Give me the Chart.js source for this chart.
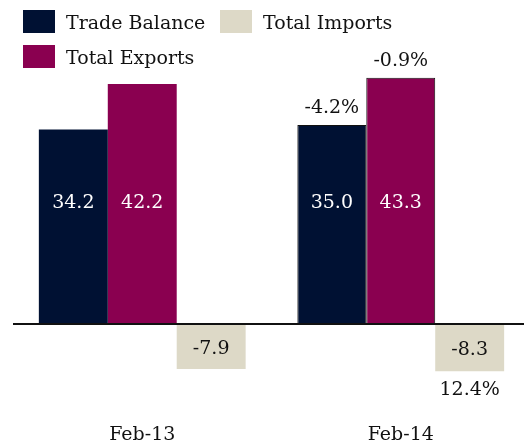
<!DOCTYPE html>
<html>
<head>
  <script src="https://cdn.jsdelivr.net/npm/chart.js@4.4.1/dist/chart.umd.min.js"></script>
  <style>
    body { margin: 0; overflow: hidden; background: #fff; }
    #wrap { position: relative; width: 540px; height: 443px; overflow: hidden; }
    #legend { position: absolute; left: 23px; top: 10px; width: 420px; font-family: "DejaVu Serif", serif; font-size: 19px; color: #111; }
    .item { position: absolute; display: flex; align-items: center; white-space: nowrap; }
    .sw { width: 32px; height: 23px; margin-right: 11px; }
  </style>
</head>
<body>
  <div id="wrap">
    <canvas id="chart" width="540" height="469"></canvas>
    <div id="legend"></div>
  </div>

  <script>
    const categories = ['Feb-13', 'Feb-14'];
    const tradeBalance = [34.2, 35.0];
    const totalExports = [42.2, 43.3];
    const totalImports = [-7.9, -8.3];
    // year-on-year growth shown next to the Feb-14 bars
    const tradeBalanceGrowth = [null, '-4.2%'];
    const totalExportsGrowth = [null, '-0.9%'];
    const totalImportsGrowth = [null, '12.4%'];

    const font = '"DejaVu Serif", serif';

    const valueLabels = {
      id: 'valueLabels',
      afterDatasetsDraw(chart) {
        const ctx = chart.ctx;
        const y = chart.scales.y;
        ctx.save();
        ctx.font = '19px ' + font;
        ctx.textAlign = 'center';
        ctx.textBaseline = 'middle';
        chart.data.datasets.forEach((ds, i) => {
          const meta = chart.getDatasetMeta(i);
          meta.data.forEach((bar, j) => {
            const v = ds.data[j];
            if (v >= 0) {
              ctx.fillStyle = '#ffffff';
              ctx.fillText(v.toFixed(1), bar.x, y.getPixelForValue(21.3));
            } else {
              ctx.fillStyle = '#111111';
              ctx.fillText(v.toFixed(1), bar.x, (bar.y + bar.base) / 2 + 2);
            }
            const g = ds.growth[j];
            if (g) {
              ctx.fillStyle = '#111111';
              if (v >= 0) ctx.fillText(g, bar.x, bar.y - 17);
              else ctx.fillText(g, bar.x, bar.y + 19);
            }
          });
        });
        ctx.restore();
      }
    };

    const chart = new Chart(document.getElementById('chart'), {
      type: 'bar',
      data: {
        labels: categories,
        datasets: [
          { label: 'Trade Balance', data: tradeBalance, growth: tradeBalanceGrowth,
            backgroundColor: '#001133', borderColor: '#111111', borderWidth: [0, 1] },
          { label: 'Total Exports', data: totalExports, growth: totalExportsGrowth,
            backgroundColor: '#8a0050', borderColor: '#111111', borderWidth: [0, 1] },
          { label: 'Total Imports', data: totalImports, growth: totalImportsGrowth,
            backgroundColor: '#ddd9c7', borderWidth: 0 }
        ]
      },
      options: {
        responsive: false,
        animation: false,
        layout: { padding: { left: 13, right: 10, top: 51, bottom: 0 } },
        plugins: { legend: { display: false }, tooltip: { enabled: false } },
        datasets: { bar: { categoryPercentage: 0.8, barPercentage: 1 } },
        scales: {
          x: {
            grid: { display: false },
            border: { display: false },
            ticks: { color: '#111', font: { family: font, size: 19 }, padding: 23 }
          },
          y: {
            min: -12, max: 48,
            ticks: { display: false, stepSize: 12 },
            border: { display: false },
            grid: {
              drawTicks: false,
              color: c => c.tick.value === 0 ? '#111111' : 'rgba(0,0,0,0)',
              lineWidth: 2
            }
          }
        }
      },
      plugins: [valueLabels]
    });

    // legend laid out in two rows like the original
    const legend = document.getElementById('legend');
    const spots = [[0, 0], [0, 35], [197, 0]];
    chart.data.datasets.forEach((ds, i) => {
      const it = document.createElement('div');
      it.className = 'item';
      it.style.left = spots[i][0] + 'px';
      it.style.top = spots[i][1] + 'px';
      it.innerHTML = '<span class="sw" style="background:' + ds.backgroundColor + '"></span>' + ds.label;
      legend.appendChild(it);
    });
  </script>
</body>
</html>
